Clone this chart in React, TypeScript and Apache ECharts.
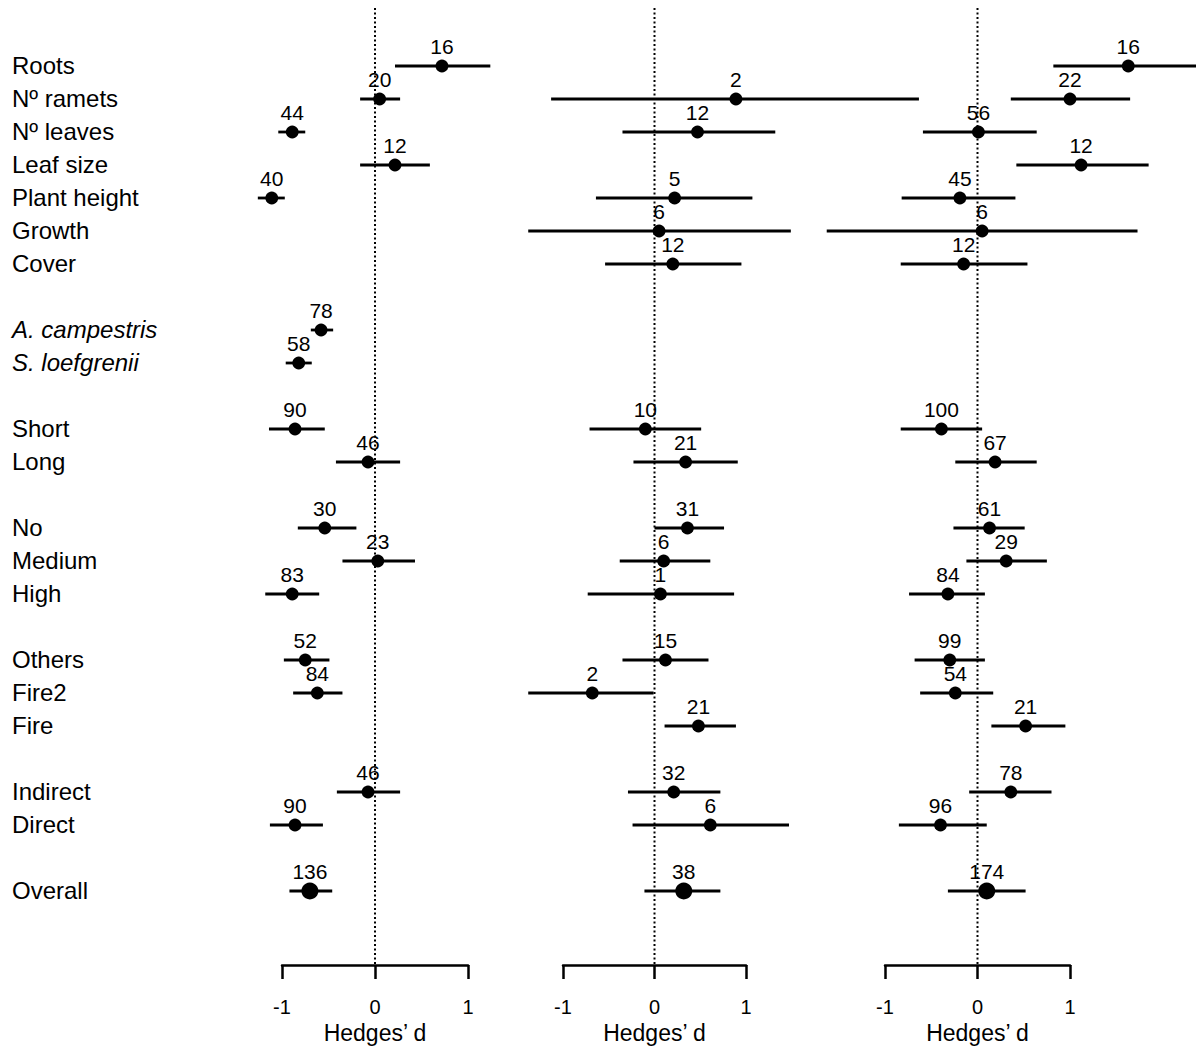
import React, { useEffect, useRef } from "react";
import * as echarts from "echarts";

const FONT = "'Liberation Sans', Arial, Helvetica, sans-serif";

// Row layout (top to bottom); empty strings are spacer rows
const rowLabels = [
  "Roots", "Nº ramets", "Nº leaves", "Leaf size", "Plant height", "Growth", "Cover", "",
  "A. campestris", "S. loefgrenii", "",
  "Short", "Long", "",
  "No", "Medium", "High", "",
  "Others", "Fire2", "Fire", "",
  "Indirect", "Direct", "",
  "Overall",
];
const italicRows = ["A. campestris", "S. loefgrenii"];
const bigRows = ["Overall"];

// Panel 1
const p1Cats = ["Roots", "Nº ramets", "Nº leaves", "Leaf size", "Plant height", "A. campestris", "S. loefgrenii", "Short", "Long", "No", "Medium", "High", "Others", "Fire2", "Indirect", "Direct", "Overall"];
const p1Est = [0.72, 0.05, -0.89, 0.215, -1.11, -0.58, -0.82, -0.86, -0.075, -0.54, 0.03, -0.89, -0.75, -0.62, -0.075, -0.86, -0.70];
const p1Low = [0.215, -0.16, -1.04, -0.16, -1.26, -0.69, -0.96, -1.14, -0.42, -0.83, -0.35, -1.18, -0.98, -0.88, -0.41, -1.13, -0.92];
const p1High = [1.24, 0.27, -0.75, 0.59, -0.97, -0.45, -0.68, -0.54, 0.27, -0.2, 0.43, -0.6, -0.49, -0.35, 0.27, -0.56, -0.46];
const p1N = [16, 20, 44, 12, 40, 78, 58, 90, 46, 30, 23, 83, 52, 84, 46, 90, 136];

// Panel 2
const p2Cats = ["Nº ramets", "Nº leaves", "Plant height", "Growth", "Cover", "Short", "Long", "No", "Medium", "High", "Others", "Fire2", "Fire", "Indirect", "Direct", "Overall"];
const p2Est = [0.89, 0.47, 0.22, 0.05, 0.2, -0.1, 0.34, 0.36, 0.1, 0.065, 0.12, -0.68, 0.48, 0.21, 0.61, 0.32];
const p2Low = [-1.13, -0.35, -0.64, -1.38, -0.54, -0.71, -0.23, 0.0, -0.38, -0.73, -0.35, -1.38, 0.11, -0.29, -0.24, -0.11];
const p2High = [2.89, 1.32, 1.07, 1.49, 0.95, 0.51, 0.91, 0.76, 0.61, 0.87, 0.59, -0.01, 0.89, 0.72, 1.47, 0.72];
const p2N = [2, 12, 5, 6, 12, 10, 21, 31, 6, 1, 15, 2, 21, 32, 6, 38];

// Panel 3
const p3Cats = ["Roots", "Nº ramets", "Nº leaves", "Leaf size", "Plant height", "Growth", "Cover", "Short", "Long", "No", "Medium", "High", "Others", "Fire2", "Fire", "Indirect", "Direct", "Overall"];
const p3Est = [1.63, 1.0, 0.01, 1.12, -0.19, 0.05, -0.15, -0.39, 0.19, 0.13, 0.31, -0.32, -0.3, -0.24, 0.52, 0.36, -0.4, 0.1];
const p3Low = [0.82, 0.36, -0.59, 0.42, -0.82, -1.63, -0.83, -0.83, -0.24, -0.26, -0.12, -0.74, -0.68, -0.62, 0.15, -0.09, -0.85, -0.32];
const p3High = [2.5, 1.65, 0.64, 1.85, 0.41, 1.73, 0.54, 0.05, 0.64, 0.51, 0.75, 0.08, 0.08, 0.17, 0.95, 0.8, 0.1, 0.52];
const p3N = [16, 22, 56, 12, 45, 6, 12, 100, 67, 61, 29, 84, 99, 54, 21, 78, 96, 174];

const xTicks = [-1, 0, 1];
const axisName = "Hedges’ d";

const panels = [
  { cats: p1Cats, est: p1Est, low: p1Low, high: p1High, n: p1N },
  { cats: p2Cats, est: p2Est, low: p2Low, high: p2High, n: p2N },
  { cats: p3Cats, est: p3Est, low: p3Low, high: p3High, n: p3N },
];

export default function App() {
  const ref = useRef<HTMLDivElement>(null);
  useEffect(() => {
    const chart = echarts.init(ref.current!, null, { renderer: "svg" });

    const gridTop = 8;
    const gridBottomPx = 965;
    const firstRowPx = 66;
    const rowStep = 33;
    const yMin = (gridTop - firstRowPx) / rowStep;
    const yMax = (gridBottomPx - firstRowPx) / rowStep;

    const gridPos = [
      { left: 282, width: 186 },
      { left: 563, width: 183 },
      { left: 885, width: 185 },
    ];

    const grids = gridPos.map((g) => ({
      left: g.left,
      width: g.width,
      top: gridTop,
      height: gridBottomPx - gridTop,
      containLabel: false,
    }));

    const xAxes = gridPos.map((_, i) => ({
      type: "value",
      gridIndex: i,
      min: xTicks[0],
      max: xTicks[xTicks.length - 1],
      interval: 1,
      axisLine: { show: true, onZero: false, lineStyle: { color: "#000", width: 2.5 } },
      axisTick: { show: true, inside: false, length: 14, lineStyle: { color: "#000", width: 2.5 } },
      axisLabel: { show: true, color: "#000", fontSize: 20, fontFamily: FONT, margin: 32 },
      splitLine: { show: false },
      name: axisName,
      nameLocation: "middle",
      nameGap: 56,
      nameTextStyle: { color: "#000", fontSize: 23, fontFamily: FONT },
    }));

    const yAxes = gridPos.map((_, i) => ({
      type: "value",
      gridIndex: i,
      inverse: true,
      min: yMin,
      max: yMax,
      show: false,
      axisLine: { onZero: false },
    }));

    const series: any[] = [];

    panels.forEach((p, i) => {
      // zero reference line
      series.push({
        type: "line",
        xAxisIndex: i,
        yAxisIndex: i,
        data: [[0, yMin], [0, yMax]],
        symbol: "none",
        silent: true,
        lineStyle: { color: "#000", width: 2, type: [2, 2.5] },
        z: 1,
      });
      const data = p.cats.map((c, k) => [
        p.est[k],
        rowLabels.indexOf(c),
        p.low[k],
        p.high[k],
        p.n[k],
        bigRows.includes(c) ? 1 : 0,
      ]);
      series.push({
        type: "custom",
        xAxisIndex: i,
        yAxisIndex: i,
        clip: false,
        z: 3,
        encode: { x: 0, y: 1 },
        data,
        renderItem: (params: any, api: any) => {
          const est = api.value(0);
          const row = api.value(1);
          const lo = api.value(2);
          const hi = api.value(3);
          const n = api.value(4);
          const big = api.value(5);
          const pt = api.coord([est, row]);
          const a = api.coord([lo, row]);
          const b = api.coord([hi, row]);
          return {
            type: "group",
            children: [
              {
                type: "line",
                shape: { x1: a[0], y1: a[1], x2: b[0], y2: b[1] },
                style: { stroke: "#000", lineWidth: 2.8 },
              },
              {
                type: "circle",
                shape: { cx: pt[0], cy: pt[1], r: big ? 8.5 : 6.4 },
                style: { fill: "#000" },
              },
              {
                type: "text",
                x: pt[0],
                y: pt[1] - 20,
                style: {
                  text: String(n),
                  align: "center",
                  verticalAlign: "middle",
                  fontSize: 21,
                  fontFamily: FONT,
                  fill: "#000",
                },
              },
            ],
          };
        },
      });
    });

    // row labels
    const labelItems = rowLabels
      .map((t, i) => ({ t, i }))
      .filter((d) => d.t !== "");
    series.push({
      type: "custom",
      xAxisIndex: 0,
      yAxisIndex: 0,
      clip: false,
      encode: { x: 0, y: 1 },
      data: labelItems.map((d) => [0, d.i]),
      renderItem: (params: any, api: any) => {
        const item = labelItems[params.dataIndex];
        const y = api.coord([0, api.value(1)])[1];
        return {
          type: "text",
          x: 12,
          y: y - 1,
          style: {
            text: item.t,
            align: "left",
            verticalAlign: "middle",
            fontSize: 24,
            fontStyle: italicRows.includes(item.t) ? "italic" : "normal",
            fontFamily: FONT,
            fill: "#000",
          },
        };
      },
    });

    chart.setOption({
      animation: false,
      backgroundColor: "#fff",
      grid: grids,
      xAxis: xAxes,
      yAxis: yAxes,
      series,
    });
    return () => chart.dispose();
  }, []);
  return (
    <div
      ref={ref}
      style={{ position: "absolute", left: 0, top: 0, width: 1196, height: 1053, background: "#fff" }}
    />
  );
}
